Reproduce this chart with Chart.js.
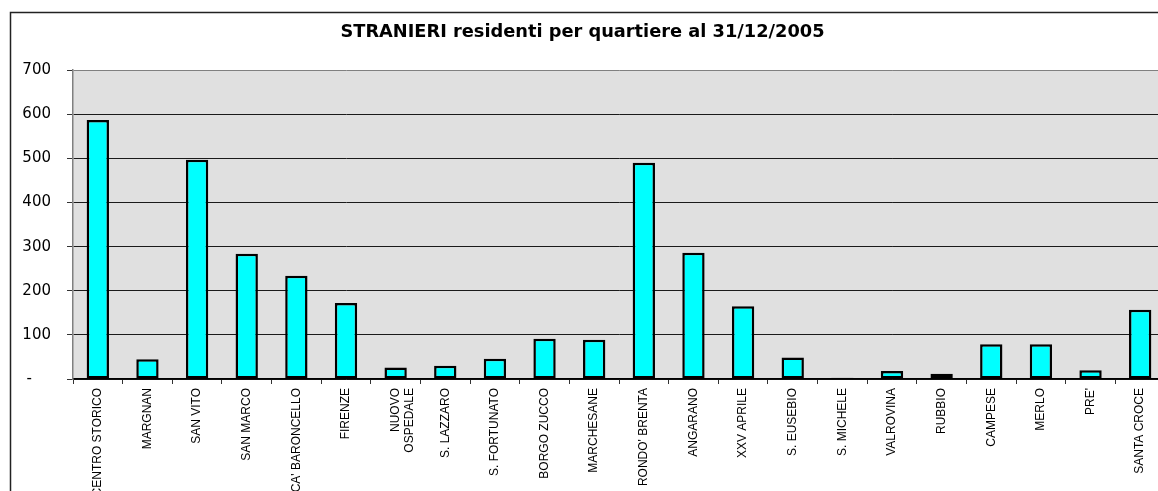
<!DOCTYPE html>
<html>
<head>
<meta charset="utf-8">
<title>Stranieri residenti per quartiere</title>
<script src="https://cdn.jsdelivr.net/npm/chart.js@4.4.1/dist/chart.umd.min.js"></script>
<style>
    html, body { margin: 0; padding: 0; background: #fff; overflow: hidden; }
    #contenitore { width: 1180px; height: 540px; position: relative; }
</style>
</head>
<body>
<div id="contenitore"><canvas id="grafico"></canvas></div>
<script>
// Dati
const quartieri = ['CENTRO STORICO', 'MARGNAN', 'SAN VITO', 'SAN MARCO', "CA' BARONCELLO", 'FIRENZE',
    ['NUOVO', 'OSPEDALE'], 'S. LAZZARO', 'S. FORTUNATO', 'BORGO ZUCCO', 'MARCHESANE', "RONDO' BRENTA",
    'ANGARANO', 'XXV APRILE', 'S. EUSEBIO', 'S. MICHELE', 'VALROVINA', 'RUBBIO', 'CAMPESE', 'MERLO',
    "PRE'", 'SANTA CROCE'];
const stranieri = [587, 45, 497, 284, 234, 172, 26, 30, 46, 91, 89, 490, 286, 165, 49, 3, 18, 12, 79, 79, 20, 157];
const tickY = [0, 100, 200, 300, 400, 500, 600, 700];
const titolo = 'STRANIERI residenti per quartiere al 31/12/2005';

// Sfondo grigio dell'area e cornice esterna
const sfondo = {
    id: 'sfondo',
    beforeDraw(chart) {
        const ctx = chart.ctx;
        const a = chart.chartArea;
        ctx.save();
        ctx.fillStyle = '#e0e0e0';
        ctx.fillRect(a.left, a.top, a.right - a.left, a.bottom - a.top);
        ctx.strokeStyle = '#222';
        ctx.lineWidth = 1.5;
        ctx.strokeRect(10.5, 12.5, chart.width + 20, chart.height + 20);
        ctx.restore();
    }
};

const ctx = document.getElementById('grafico').getContext('2d');
const chart = new Chart(ctx, {
    type: 'bar',
    data: {
        labels: quartieri,
        datasets: [{
            data: stranieri,
            backgroundColor: '#00ffff',
            borderColor: '#000000',
            borderWidth: 2.5,
            borderSkipped: false,
            barPercentage: 0.45,
            categoryPercentage: 1
        }]
    },
    options: {
        responsive: true,
        maintainAspectRatio: false,
        animation: false,
        layout: { padding: { left: 0, right: 15, top: 0, bottom: 0 } },
        plugins: {
            legend: { display: false },
            tooltip: { enabled: false },
            title: {
                display: true,
                text: titolo,
                color: '#000',
                font: { family: 'DejaVu Sans', size: 17.8, weight: 'bold', lineHeight: 1.2 },
                padding: { top: 21.5, bottom: 27.3 }
            }
        },
        scales: {
            x: {
                grid: { drawOnChartArea: false, drawTicks: true, tickLength: 5, color: '#333', offset: true },
                border: { color: '#000', width: 1.5 },
                ticks: {
                    autoSkip: false,
                    minRotation: 90,
                    maxRotation: 90,
                    padding: 4,
                    color: '#000',
                    font: { family: 'Liberation Sans', size: 12 }
                },
                afterFit(scale) { scale.height = 161; }
            },
            y: {
                min: 0,
                max: 700,
                afterBuildTicks(scale) { scale.ticks = tickY.map(v => ({ value: v })); },
                grid: {
                    color: (c) => (c.tick && c.tick.value === 700) ? '#808080' : '#1a1a1a',
                    lineWidth: 1,
                    tickLength: 6,
                    tickColor: '#333'
                },
                border: { color: '#808080', width: 1.5 },
                ticks: {
                    padding: 16,
                    color: '#000',
                    font: { family: 'DejaVu Sans', size: 15 },
                    callback: (v) => v === 0 ? '-    ' : String(v)
                },
                afterFit(scale) { scale.width = 73; }
            }
        }
    },
    plugins: [sfondo]
});
</script>
</body>
</html>
